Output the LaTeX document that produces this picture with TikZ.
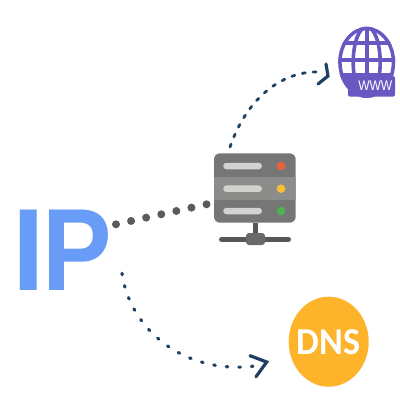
\documentclass[tikz,border=0pt]{standalone}
\usepackage{fontspec}
\usepackage{graphicx}
\setmainfont{Liberation Sans}
\newfontfamily\cb{Carlito}[BoldFont={Carlito Bold}]
\begin{document}
\begin{tikzpicture}[x=1pt,y=-1pt,
  dotgray/.style={draw=dotg,line width=8pt,line cap=round,dash pattern=on 0pt off 15.45pt},
  dashblue/.style={draw=navy,line width=3.2pt,line cap=round,dash pattern=on 1.5pt off 11.1pt},
  dashtop/.style={draw=navy,line width=2.8pt,line cap=round,dash pattern=on 3pt off 7.8pt},
  chev/.style={draw=navy,line width=3.2pt,line join=miter,line cap=round},
  pill/.style={fill=pillc,rounded corners=3.2pt},
  led/.style={circle,minimum size=8.6pt,inner sep=0pt},
  lbl/.style={inner sep=0pt,font=\bfseries}]
\definecolor{dotg}{HTML}{5B5B5E}
\definecolor{navy}{HTML}{1F3F63}
\definecolor{pillc}{HTML}{D2D2D0}
\definecolor{srv}{HTML}{767676}
\definecolor{srvm}{HTML}{8C8C8A}
\definecolor{barc}{HTML}{56595C}
\definecolor{ipc}{HTML}{699CF6}
\definecolor{wwwc}{HTML}{6A58C2}
\definecolor{dnsc}{HTML}{FDB42B}
\useasboundingbox (0,0) rectangle (400,400);
\fill[white] (0,0) rectangle (400,400);
% IP
\node[lbl,anchor=base west,text=ipc,font=\fontsize{117}{117}\selectfont\bfseries] (ip) at (12,290) {I\kern-2.5pt\scalebox{.89}[1]{P}};
% server
\coordinate (srvIn) at (207,204.2);
\coordinate (ipOut) at (116,224.3);
\begin{scope}
\clip[rounded corners=6pt] (214,153.3) rectangle (295.7,222.7);
\fill[srv] (214,153.3) rectangle (295.7,222.7);
\fill[srvm] (214,177.3) rectangle (295.7,200);
\end{scope}
\node[pill,minimum width=38.7pt,minimum height=6.5pt,inner sep=0pt] (p1) at (242.6,166) {};
\node[pill,minimum width=38.7pt,minimum height=6.5pt,inner sep=0pt] (p2) at (242.6,188.7) {};
\node[pill,minimum width=38.7pt,minimum height=6.5pt,inner sep=0pt] (p3) at (242.6,211) {};
\node[led,fill={rgb,255:red,233;green,98;blue,62}] (l1) at (281,166) {};
\node[led,fill={rgb,255:red,245;green,192;blue,51}] (l2) at (281,188.7) {};
\node[led,fill={rgb,255:red,77;green,178;blue,82}] (l3) at (281,211) {};
\fill[barc] (252.7,222.7) rectangle (258.3,236);
\draw[barc,line width=5pt,line cap=round] (221.5,239.3) -- (288.5,239.3);
\fill[srv!90!black,rounded corners=3pt] (246,233) rectangle (265,245);
% globe
\begin{scope}
\clip (366.7,62.3) ellipse [x radius=28.5,y radius=35.5];
\fill[white] (366.7,62.3) ellipse [x radius=28.5,y radius=35.5];
\foreach \yy in {43.3,60,75} \draw[wwwc,line width=4pt] (335,\yy) -- (398,\yy);
\draw[wwwc,line width=3.6pt] (366.7,25) -- (366.7,100);
\draw[wwwc,line width=3.6pt] (366.7,62.3) ellipse [x radius=13.5,y radius=35.5];
\draw[wwwc,line width=7pt] (366.7,62.3) ellipse [x radius=28.5,y radius=35.5];
\fill[wwwc] (338,76) rectangle (395,100);
\end{scope}
\fill[wwwc,rounded corners=2pt] (348,76) rectangle (395,96.7);
\node[inner sep=0pt,text=white,font=\fontsize{14}{14}\selectfont] (www) at (375.3,85.7) {\scalebox{.86}[1]{WWW}};
% DNS
\fill[dnsc] (328.7,341.7) ellipse [x radius=40,y radius=45];
\node[inner sep=0pt,font=\cb\fontsize{38}{38}\selectfont\bfseries,text=white] (dns) at (328.7,342) {\scalebox{.95}[1]{DNS}};
% connectors
\draw[dotgray] (ipOut) -- (srvIn);
\coordinate (a1) at (230,147); \coordinate (a2) at (321,72);
\draw[dashtop] (a1) .. controls (248,95) and (285,70) .. (a2);
\coordinate (t1) at (326,64); \coordinate (t2) at (328,76); \coordinate (t3) at (318,84);
\draw[chev] (t1) -- (t2) -- (t3);
\coordinate (b1) at (122,273.3); \coordinate (b2) at (255,366);
\draw[dashblue] (b1) .. controls (130,330) and (185,375) .. (b2);
\coordinate (h1) at (250,355.7); \coordinate (h2) at (266.7,362); \coordinate (h3) at (256,376.7);
\draw[chev] (h1) -- (h2) -- (h3);
\end{tikzpicture}
\end{document}
